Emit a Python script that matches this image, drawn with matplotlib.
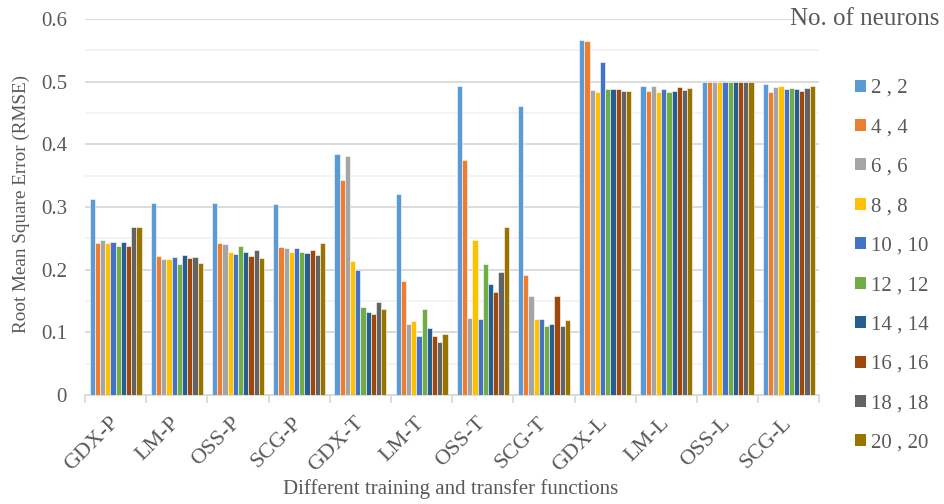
import numpy as np
import matplotlib
matplotlib.use("Agg")
import matplotlib.pyplot as plt
from matplotlib.patches import Patch

categories = ["GDX-P", "LM-P", "OSS-P", "SCG-P", "GDX-T", "LM-T",
              "OSS-T", "SCG-T", "GDX-L", "LM-L", "OSS-L", "SCG-L"]

series_labels = ["2 , 2", "4 , 4", "6 , 6", "8 , 8", "10 , 10",
                 "12 , 12", "14 , 14", "16 , 16", "18 , 18", "20 , 20"]

# RMSE per neuron configuration, one value per training/transfer combination
n2_2   = [0.313, 0.307, 0.307, 0.305, 0.385, 0.321, 0.494, 0.461, 0.566, 0.493, 0.500, 0.496]
n4_4   = [0.242, 0.222, 0.242, 0.237, 0.343, 0.182, 0.376, 0.191, 0.565, 0.486, 0.500, 0.484]
n6_6   = [0.248, 0.218, 0.241, 0.235, 0.382, 0.114, 0.123, 0.158, 0.487, 0.494, 0.500, 0.492]
n8_8   = [0.243, 0.217, 0.229, 0.229, 0.214, 0.119, 0.247, 0.122, 0.484, 0.483, 0.500, 0.493]
n10_10 = [0.244, 0.220, 0.225, 0.235, 0.199, 0.094, 0.122, 0.122, 0.532, 0.489, 0.500, 0.489]
n12_12 = [0.238, 0.210, 0.238, 0.229, 0.141, 0.138, 0.210, 0.110, 0.488, 0.483, 0.500, 0.490]
n14_14 = [0.244, 0.224, 0.229, 0.227, 0.132, 0.107, 0.177, 0.114, 0.489, 0.486, 0.500, 0.489]
n16_16 = [0.238, 0.219, 0.222, 0.232, 0.129, 0.095, 0.164, 0.159, 0.488, 0.492, 0.500, 0.486]
n18_18 = [0.268, 0.221, 0.232, 0.224, 0.148, 0.084, 0.196, 0.111, 0.486, 0.487, 0.500, 0.490]
n20_20 = [0.269, 0.211, 0.219, 0.242, 0.137, 0.097, 0.269, 0.120, 0.486, 0.490, 0.500, 0.493]

series = [n2_2, n4_4, n6_6, n8_8, n10_10, n12_12, n14_14, n16_16, n18_18, n20_20]

colors = ["#5B9BD5", "#ED7D31", "#A5A5A5", "#FFC000", "#4472C4",
          "#70AD47", "#255E91", "#9E480E", "#636363", "#997300"]

plt.rcParams["font.family"] = ["Liberation Serif", "DejaVu Serif"]
text_color = "#595959"

fig = plt.figure(figsize=(9.44, 5.04), dpi=100)
ax = fig.add_axes([0.090, 0.216, 0.778, 0.746])

n_series = len(series)
x = np.arange(len(categories))
group_width = 0.85
bar_w = group_width / n_series

for i, (vals, col, lab) in enumerate(zip(series, colors, series_labels)):
    offs = -group_width / 2 + bar_w * (i + 0.5)
    ax.bar(x + offs, vals, width=bar_w, color=col, edgecolor="white",
           linewidth=0.4, label=lab, zorder=3)

ax.set_xlim(-0.5, len(categories) - 0.5)
ax.set_ylim(0, 0.6)
ax.set_yticks(np.arange(0, 0.61, 0.1))
ax.set_yticklabels(["0", "0.1", "0.2", "0.3", "0.4", "0.5", "0.6"])
ax.set_yticks(np.arange(0.05, 0.6, 0.1), minor=True)

ax.grid(axis="y", which="major", color="#D9D9D9", linewidth=1.3, zorder=0)
ax.grid(axis="y", which="minor", color="#F2F2F2", linewidth=1.3, zorder=0)
ax.set_axisbelow(True)

for s in ["left", "right", "top"]:
    ax.spines[s].set_visible(False)
ax.spines["bottom"].set_color("#D9D9D9")
ax.spines["bottom"].set_linewidth(1.3)

# category labels at group centres, tick marks at group boundaries
ax.set_xticks(x)
ax.set_xticklabels(categories, rotation=45, ha="right", va="center",
                   rotation_mode="anchor", fontsize=16, color=text_color)
ax.tick_params(axis="x", which="major", length=0, pad=18)
ax.set_xticks(np.arange(-0.5, len(categories), 1.0), minor=True)
ax.tick_params(axis="x", which="minor", length=6, color="#D9D9D9", width=1.3)
ax.tick_params(axis="y", which="both", length=0, labelsize=15,
               labelcolor=text_color, pad=13)

fig.text(21 / 944, 1 - 204 / 504, "Root Mean Square Error (RMSE)",
         rotation=90, ha="center", va="center", fontsize=13.8, color=text_color)
fig.text(451 / 944, 1 - 489 / 504, "Different training and transfer functions",
         ha="center", va="center", fontsize=15, color=text_color)

handles = [Patch(facecolor=c, edgecolor="none") for c in colors]
fig.legend(handles, series_labels, loc="upper left",
           bbox_to_anchor=(855 / 944, 1 - 79 / 504), frameon=False,
           fontsize=15, labelcolor=text_color, handlelength=0.51,
           handleheight=0.51, handletextpad=0.25, labelspacing=0.98,
           borderpad=0, borderaxespad=0)
fig.text(790 / 944, 1 - 19 / 504, "No. of neurons", ha="left",
         va="center", fontsize=18, color=text_color)

fig.savefig("out.png", dpi=100, facecolor="white")
